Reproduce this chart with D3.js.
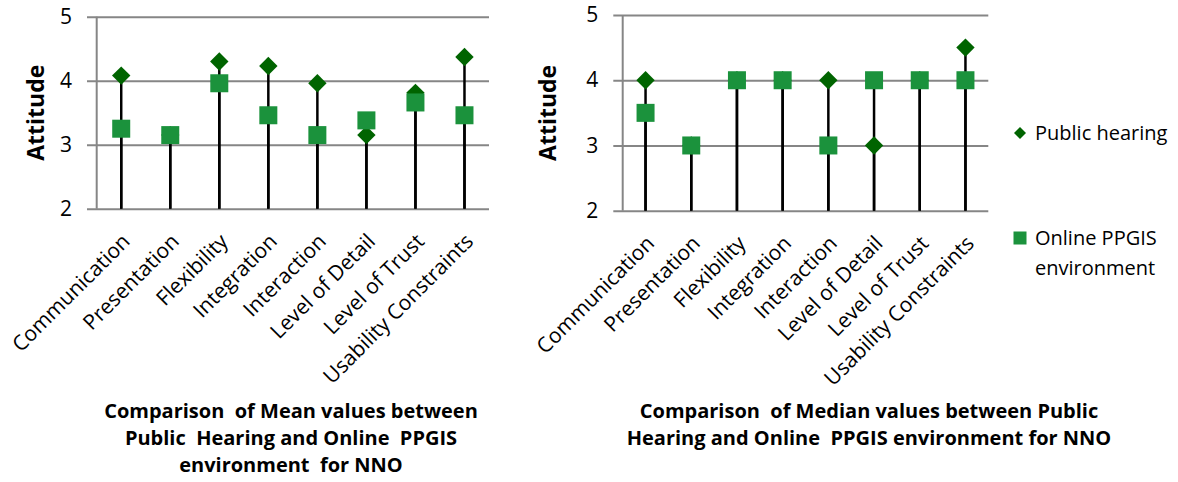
<!DOCTYPE html>
<html>
<head>
<meta charset="utf-8">
<script src="https://cdn.jsdelivr.net/npm/d3@7"></script>
<style>
  html, body { margin: 0; padding: 0; background: #ffffff; }
  svg { display: block; font-family: "Open Sans", "Noto Sans", sans-serif; }
</style>
</head>
<body>
<svg id="chart" width="1178" height="482"></svg>
<script>
// Evaluation criteria on the category axis
const categories = ["Communication", "Presentation", "Flexibility", "Integration",
                    "Interaction", "Level of Detail", "Level of Trust", "Usability Constraints"];

// Mean attitude scores
const meanPublicHearing = [4.08, 3.15, 4.30, 4.23, 3.96, 3.15, 3.81, 4.37];
const meanOnlinePPGIS   = [3.25, 3.15, 3.96, 3.46, 3.15, 3.38, 3.66, 3.46];

// Median attitude scores
const medianPublicHearing = [4, 3, 4, 4, 4, 3, 4, 4.5];
const medianOnlinePPGIS   = [3.5, 3, 4, 4, 3, 4, 4, 4];

const yTicks = [2, 3, 4, 5];
const yLabel = "Attitude";
const seriesNames = ["Public hearing", "Online PPGIS environment"];

const leftTitle = ["Comparison  of Mean values between", "Public  Hearing and Online  PPGIS", "environment  for NNO"];
const rightTitle = ["Comparison  of Median values between Public", "Hearing and Online  PPGIS environment for NNO"];

const colorDiamond = "#006400";
const colorSquare = "#1b923c";
const gridColor = "#868686";

const svg = d3.select("#chart");

function drawPanel(cfg) {
  const g = svg.append("g");
  const x = d3.scaleBand().domain(categories).range([cfg.x0, cfg.x1]).padding(0);
  const y = d3.scaleLinear().domain([2, 5]).range([cfg.yBot, cfg.yTop]);
  const cx = d => x(d) + x.bandwidth() / 2;

  // horizontal gridlines with tick stubs to the left of the axis
  const axis = d3.axisLeft(y).tickValues(yTicks).tickFormat(d3.format("d"))
    .tickSize(-(cfg.x1 - cfg.x0 + cfg.ext)).tickPadding(15);
  const ag = g.append("g").attr("transform", `translate(${cfg.x0 - cfg.ext},0)`).call(axis);
  ag.select(".domain").remove();
  ag.selectAll(".tick line").attr("stroke", gridColor).attr("stroke-width", 2);
  ag.selectAll(".tick text").attr("fill", "#000").style("font-size", "21px")
    .style("font-family", '"Open Sans", sans-serif');

  // vertical value axis line
  g.append("line").attr("x1", cfg.x0).attr("x2", cfg.x0)
    .attr("y1", y(5)).attr("y2", y(2)).attr("stroke", gridColor).attr("stroke-width", 2);

  // y axis title
  g.append("text")
    .attr("transform", `translate(${cfg.yLabelX},${(y(5) + y(2)) / 2}) rotate(-90)`)
    .attr("text-anchor", "middle").attr("dy", "0.35em")
    .style("font-size", "23px").style("font-weight", "bold").text(yLabel);

  // drop lines from every marker down to the category axis
  const drops = [];
  categories.forEach((c, i) => {
    drops.push({ c, v: cfg.a[i] });
    drops.push({ c, v: cfg.b[i] });
  });
  g.append("g").selectAll("line").data(drops).join("line")
    .attr("x1", d => cx(d.c)).attr("x2", d => cx(d.c))
    .attr("y1", d => y(d.v)).attr("y2", y(2))
    .attr("stroke", "#000").attr("stroke-width", 2.5);

  // public hearing: diamonds
  const dsz = 9.2;
  g.append("g").selectAll("path").data(categories).join("path")
    .attr("d", (c, i) => {
      const px = cx(c), py = y(cfg.a[i]);
      return `M${px},${py - dsz}L${px + dsz},${py}L${px},${py + dsz}L${px - dsz},${py}Z`;
    })
    .attr("fill", colorDiamond);

  // online PPGIS: squares
  const s = 18;
  g.append("g").selectAll("rect").data(categories).join("rect")
    .attr("x", c => cx(c) - s / 2)
    .attr("y", (c, i) => y(cfg.b[i]) - s / 2)
    .attr("width", s).attr("height", s)
    .attr("fill", colorSquare);

  // rotated category labels
  g.append("g").selectAll("text").data(categories).join("text")
    .attr("transform", c => `translate(${cx(c) + 10},${cfg.yBot + 34}) rotate(-45)`)
    .attr("text-anchor", "end")
    .style("font-size", "21px")
    .text(c => c);

  // chart title
  const t = g.append("text").attr("text-anchor", "middle")
    .style("font-size", "20px").style("font-weight", "bold");
  cfg.title.forEach((line, i) => {
    t.append("tspan").attr("x", cfg.titleX).attr("y", 418 + i * 27)
      .style("white-space", "pre").text(line);
  });
}

drawPanel({ x0: 96.7, x1: 489, yTop: 16.7, yBot: 208.7, ext: 9.7, yLabelX: 36,
            a: meanPublicHearing, b: meanOnlinePPGIS, title: leftTitle, titleX: 291 });
drawPanel({ x0: 622.7, x1: 988.3, yTop: 15, yBot: 210.7, ext: 9.4, yLabelX: 548,
            a: medianPublicHearing, b: medianOnlinePPGIS, title: rightTitle, titleX: 869 });

// legend
const lg = svg.append("g");
lg.append("path")
  .attr("d", "M1020,127L1026,133L1020,139L1014,133Z").attr("fill", colorDiamond);
lg.append("text").attr("x", 1035).attr("y", 133).attr("dy", "0.35em")
  .style("font-size", "20px").text(seriesNames[0]);
lg.append("rect").attr("x", 1013.5).attr("y", 231.5).attr("width", 13).attr("height", 13)
  .attr("fill", colorSquare);
const lt = lg.append("text").style("font-size", "20px");
lt.append("tspan").attr("x", 1035).attr("y", 238).attr("dy", "0.35em").text("Online PPGIS");
lt.append("tspan").attr("x", 1035).attr("y", 268).attr("dy", "0.35em").text("environment");
</script>
</body>
</html>
